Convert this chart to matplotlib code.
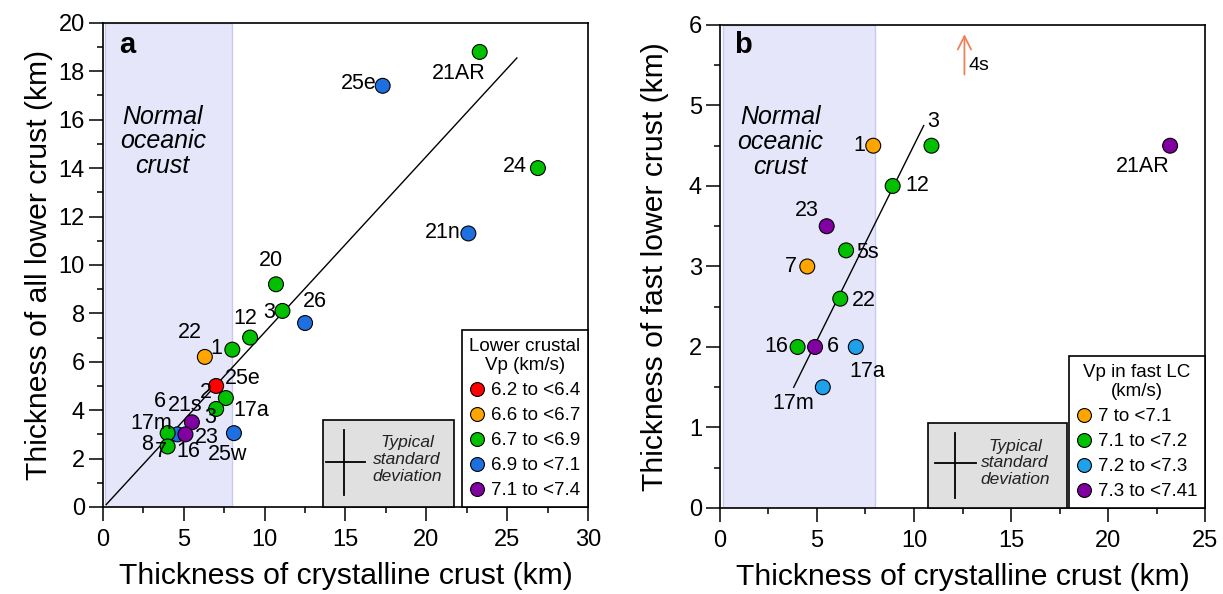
import matplotlib.pyplot as plt
from matplotlib.lines import Line2D
from matplotlib.patches import Rectangle
from matplotlib.ticker import MultipleLocator

plt.rcParams['font.family'] = ['Liberation Sans', 'DejaVu Sans']

# ---- panel a: all lower crust ----
a_classes = ["6.2 to <6.4", "6.6 to <6.7", "6.7 to <6.9", "6.9 to <7.1", "7.1 to <7.4"]
a_colors = ["#FF0000", "#FFA500", "#00C000", "#1E6FE0", "#8000A0"]
a_x = [23.3, 17.3, 26.9, 22.6, 10.7, 11.1, 12.5, 9.1, 8.0, 6.3, 7.0, 7.6, 7.0, 5.5, 4.6, 4.0, 5.1, 4.0, 8.1]
a_y = [18.8, 17.4, 14.0, 11.3, 9.2, 8.1, 7.6, 7.0, 6.5, 6.2, 5.0, 4.5, 4.05, 3.5, 3.0, 3.05, 3.0, 2.5, 3.05]
a_cls = [2, 3, 2, 3, 2, 2, 3, 2, 2, 1, 0, 2, 2, 4, 3, 2, 4, 2, 3]
a_fit_x = [0.2, 25.6]
a_fit_y = [0.1, 18.55]
a_labels = ["21AR", "25e", "24", "21n", "20", "26", "3", "12", "1", "22", "25e", "17a",
            "2", "21s", "6", "3", "17m", "8", "7", "16", "23", "25w"]
a_lab_x = [22.0, 15.8, 25.5, 21.0, 10.4, 13.1, 10.3, 8.8, 7.0, 5.4, 8.65, 9.2,
           6.35, 5.1, 3.5, 6.6, 3.0, 2.7, 3.6, 5.25, 6.4, 7.7]
a_lab_y = [17.9, 17.5, 14.05, 11.35, 10.2, 8.5, 8.05, 7.8, 6.55, 7.2, 5.3, 4.0,
           4.75, 4.2, 4.35, 3.7, 3.45, 2.6, 2.3, 2.3, 2.85, 2.15]

# ---- panel b: fast lower crust ----
b_classes = ["7 to <7.1", "7.1 to <7.2", "7.2 to <7.3", "7.3 to <7.41"]
b_colors = ["#FFA500", "#00C000", "#1EA0EA", "#8000A0"]
b_x = [7.9, 10.9, 23.2, 8.9, 5.5, 6.5, 4.5, 6.2, 4.0, 4.9, 7.0, 5.3]
b_y = [4.5, 4.5, 4.5, 4.0, 3.5, 3.2, 3.0, 2.6, 2.0, 2.0, 2.0, 1.5]
b_cls = [0, 1, 3, 1, 3, 1, 0, 1, 1, 3, 2, 2]
b_fit_x = [3.8, 10.5]
b_fit_y = [1.5, 4.75]
b_labels = ["3", "1", "21AR", "12", "23", "5s", "7", "22", "16", "6", "17a", "17m"]
b_lab_x = [11.0, 7.2, 21.8, 10.15, 4.45, 7.6, 3.65, 7.4, 2.9, 5.8, 7.6, 3.8]
b_lab_y = [4.8, 4.5, 4.24, 4.0, 3.7, 3.17, 3.0, 2.58, 2.0, 2.0, 1.7, 1.3]
arrow_x = 12.6
arrow_y = [5.35, 5.92]


def style_axes(ax, xmax, ymax, xmaj, xmin_, ymaj, ymin_):
    ax.set_xlim(0, xmax)
    ax.set_ylim(0, ymax)
    ax.xaxis.set_major_locator(MultipleLocator(xmaj))
    ax.xaxis.set_minor_locator(MultipleLocator(xmin_))
    ax.yaxis.set_major_locator(MultipleLocator(ymaj))
    ax.yaxis.set_minor_locator(MultipleLocator(ymin_))
    ax.tick_params(which='major', direction='out', length=10, width=1.1, labelsize=17, pad=3)
    ax.tick_params(axis='x', which='major', pad=6)
    ax.tick_params(which='minor', direction='out', length=4.5, width=1.1)
    for s in ax.spines.values():
        s.set_linewidth(1.2)
    ax.set_xlabel("Thickness of crystalline crust (km)", fontsize=21.7, labelpad=8)


def std_box(ax, x0, x1, h, cx, cy, vx, vy0, vy1, hy, hx0, hx1):
    ax.add_patch(Rectangle((x0, 0), x1 - x0, h, facecolor='#E0E0E0', edgecolor='black',
                           lw=1.2, zorder=4, clip_on=False))
    ax.plot([vx, vx], [vy0, vy1], color='black', lw=1.3, zorder=5)
    ax.plot([hx0, hx1], [hy, hy], color='black', lw=1.3, zorder=5)
    ax.text(cx, cy, "Typical\nstandard\ndeviation", fontsize=12.5, style='italic',
            ha='center', va='center', zorder=5, linespacing=1.15, color='#222222')


def draw_legend(ax, classes, colors, title):
    handles = [Line2D([], [], marker='o', ls='none', markersize=10, markerfacecolor=c,
                      markeredgecolor='black', markeredgewidth=0.8) for c in colors]
    leg = ax.legend(handles, classes, title=title, loc='lower right', bbox_to_anchor=(1, 0),
                    fontsize=13.5, title_fontsize=13.5, frameon=True, fancybox=False,
                    framealpha=1, edgecolor='black', borderaxespad=0, handlelength=0.8,
                    handletextpad=0.35, labelspacing=0.42, borderpad=0.4)
    leg.get_frame().set_linewidth(1.2)
    leg.get_title().set_multialignment('center')
    leg.set_zorder(6)


fig = plt.figure(figsize=(12.23, 5.94), dpi=100)
ax1 = fig.add_axes([0.0842, 0.1465, 0.3966, 0.815])
ax2 = fig.add_axes([0.5887, 0.1448, 0.3966, 0.8132])

# panel a
style_axes(ax1, 30, 20, 5, 2.5, 2, 1)
ax1.set_ylabel("Thickness of all lower crust (km)", fontsize=21.7, labelpad=4)
ax1.axvspan(0.15, 8, facecolor='#E6E6FA', edgecolor='#C8C8F2', lw=1, zorder=0)
ax1.plot(a_fit_x, a_fit_y, color='black', lw=1, zorder=2)
ax1.scatter(a_x, a_y, s=115, c=[a_colors[k] for k in a_cls], edgecolors='black',
            linewidths=0.8, zorder=3)
for t, x, y in zip(a_labels, a_lab_x, a_lab_y):
    ax1.text(x, y, t, fontsize=15.5, ha='center', va='center', zorder=3)
ax1.text(3.7, 15.1, "Normal\noceanic\ncrust", fontsize=18, style='italic', ha='center',
         va='center', linespacing=1.05)
ax1.text(0.05, 0.955, "a", transform=ax1.transAxes, fontsize=21, fontweight='bold',
         ha='center', va='center')
std_box(ax1, 13.6, 21.7, 3.6, 18.8, 1.95, 14.9, 0.5, 3.2, 1.86, 13.8, 16.2)
draw_legend(ax1, a_classes, a_colors, "Lower crustal\nVp (km/s)")

# panel b
style_axes(ax2, 25, 6, 5, 2.5, 1, 0.5)
ax2.set_ylabel("Thickness of fast lower crust (km)", fontsize=21.7, labelpad=14)
ax2.axvspan(0.15, 8, facecolor='#E6E6FA', edgecolor='#C8C8F2', lw=1, zorder=0)
ax2.plot(b_fit_x, b_fit_y, color='black', lw=1, zorder=2)
ax2.scatter(b_x, b_y, s=115, c=[b_colors[k] for k in b_cls], edgecolors='black',
            linewidths=0.8, zorder=3)
for t, x, y in zip(b_labels, b_lab_x, b_lab_y):
    ax2.text(x, y, t, fontsize=15.5, ha='center', va='center', zorder=3)
ax2.annotate("", xy=(arrow_x, arrow_y[1]), xytext=(arrow_x, arrow_y[0]),
             arrowprops=dict(arrowstyle='->', color='#F0805A', lw=1.3, mutation_scale=24))
ax2.text(arrow_x + 0.2, 5.5, "4s", fontsize=14, ha='left', va='center')
ax2.text(3.1, 4.55, "Normal\noceanic\ncrust", fontsize=18, style='italic', ha='center',
         va='center', linespacing=1.05)
ax2.text(0.048, 0.958, "b", transform=ax2.transAxes, fontsize=21, fontweight='bold',
         ha='center', va='center')
std_box(ax2, 10.7, 17.9, 1.06, 15.2, 0.56, 12.1, 0.12, 0.93, 0.56, 11.1, 13.2)
draw_legend(ax2, b_classes, b_colors, "Vp in fast LC\n(km/s)")

fig.savefig("out.png", dpi=100)
